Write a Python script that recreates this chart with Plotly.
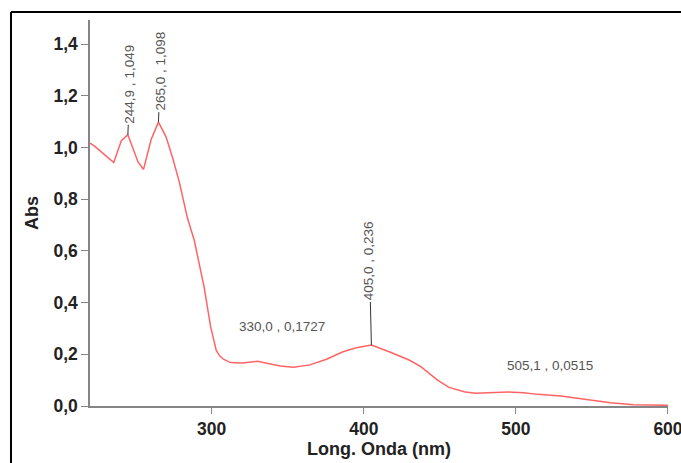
import plotly.graph_objects as go

wavelength = [220, 223, 228, 235.6, 240.6, 244.9, 251.5, 255.2, 260.2, 265.0, 270, 274.4,
              278.7, 284.1, 288.5, 295, 299.3, 301.5, 303, 305.5, 308, 312.4, 320, 330, 338.5,
              345, 353.7, 364.6, 375.5, 386.3, 395, 405.0, 416.7, 429.8, 437.5, 444, 448.5,
              456, 460, 466, 473, 480, 488.3, 495, 505.1, 514.4, 529.6, 547, 562.2, 577.4,
              590, 600]
absorb = [1.017, 1.005, 0.98, 0.942, 1.026, 1.049, 0.945, 0.915, 1.031, 1.098, 1.041, 0.958,
          0.867, 0.726, 0.642, 0.461, 0.307, 0.255, 0.215, 0.192, 0.18, 0.168, 0.166, 0.1727,
          0.162, 0.155, 0.150, 0.159, 0.181, 0.210, 0.225, 0.236, 0.210, 0.178, 0.152, 0.12,
          0.10, 0.072, 0.065, 0.055, 0.049, 0.050, 0.054, 0.054, 0.0515, 0.045, 0.039, 0.026,
          0.013, 0.005, 0.004, 0.003]

# labelled peaks
peaks_wl = [244.9, 265.0, 405.0, 330.0, 505.1]
peaks_abs = [1.049, 1.098, 0.236, 0.1727, 0.0515]
peak_labels = ["244,9 , 1,049", "265,0 , 1,098", "405,0 , 0,236", "330,0 , 0,1727", "505,1 , 0,0515"]

x_ticks = [300, 400, 500, 600]
y_ticks = [0.0, 0.2, 0.4, 0.6, 0.8, 1.0, 1.2, 1.4]
y_tick_text = ["0,0", "0,2", "0,4", "0,6", "0,8", "1,0", "1,2", "1,4"]

FONT = "Liberation Sans, Arial, sans-serif"

fig = go.Figure()
fig.add_trace(go.Scatter(x=wavelength, y=absorb, mode="lines",
                         line=dict(color="#ff6464", width=1.5), hoverinfo="skip"))

ann_style = [
    dict(vertical=True, ax=2, ay=-51),
    dict(vertical=True, ax=2, ay=-51),
    dict(vertical=True, ax=-2, ay=-84),
    dict(vertical=False, ax=25, ay=-35),
    dict(vertical=False, ax=26, ay=-27),
]
for wl, ab, lab, st in zip(peaks_wl, peaks_abs, peak_labels, ann_style):
    if st["vertical"]:
        fig.add_annotation(x=wl, y=ab, text=lab, textangle=-90, showarrow=True,
                           ax=st["ax"], ay=st["ay"], arrowhead=0, arrowwidth=1,
                           arrowcolor="#333333",
                           font=dict(family=FONT, size=13.5, color="#555555"))
    else:
        fig.add_annotation(x=wl, y=ab, text=lab, showarrow=False,
                           xshift=st["ax"], yshift=-st["ay"],
                           font=dict(family=FONT, size=13.5, color="#555555"))

# outer frame (left and top edges visible)
fig.add_shape(type="line", xref="paper", yref="paper", x0=-0.1367, x1=1.2,
              y0=1.0207, y1=1.0207, line=dict(color="black", width=2))
fig.add_shape(type="line", xref="paper", yref="paper", x0=-0.1367, x1=-0.1367,
              y0=-0.3, y1=1.0207, line=dict(color="black", width=2))

fig.update_layout(
    width=681, height=463,
    margin=dict(l=90, r=13, t=20, b=57, autoexpand=False),
    plot_bgcolor="white", paper_bgcolor="white",
    showlegend=False,
    font=dict(family=FONT, color="#222222"),
    xaxis=dict(range=[220, 600.01], tickvals=x_ticks, ticktext=[str(v) for v in x_ticks],
               showgrid=False, zeroline=False, showline=True, linecolor="#858585",
               linewidth=1.5, ticks="outside", ticklen=6, tickcolor="#858585",
               automargin=False, ticklabeloverflow="allow",
               tickfont=dict(family=FONT, size=17.5, color="#222222", weight="bold"),
               title=dict(text="<b>Long. Onda (nm)</b>", font=dict(family=FONT, size=18),
                          standoff=2)),
    yaxis=dict(range=[0, 1.493], tickvals=y_ticks, ticktext=y_tick_text,
               showgrid=False, zeroline=False, showline=True, linecolor="#858585",
               linewidth=1.5, ticks="outside", ticklen=7, tickcolor="#858585",
               automargin=False,
               tickfont=dict(family=FONT, size=17.5, color="#222222", weight="bold"),
               title=dict(text="<b>Abs</b>", font=dict(family=FONT, size=18),
                          standoff=10)),
)

fig.write_html("out.html", config={"displayModeBar": False},
               post_script="document.body.style.margin='0';document.body.style.padding='0';document.body.style.overflow='hidden';")
